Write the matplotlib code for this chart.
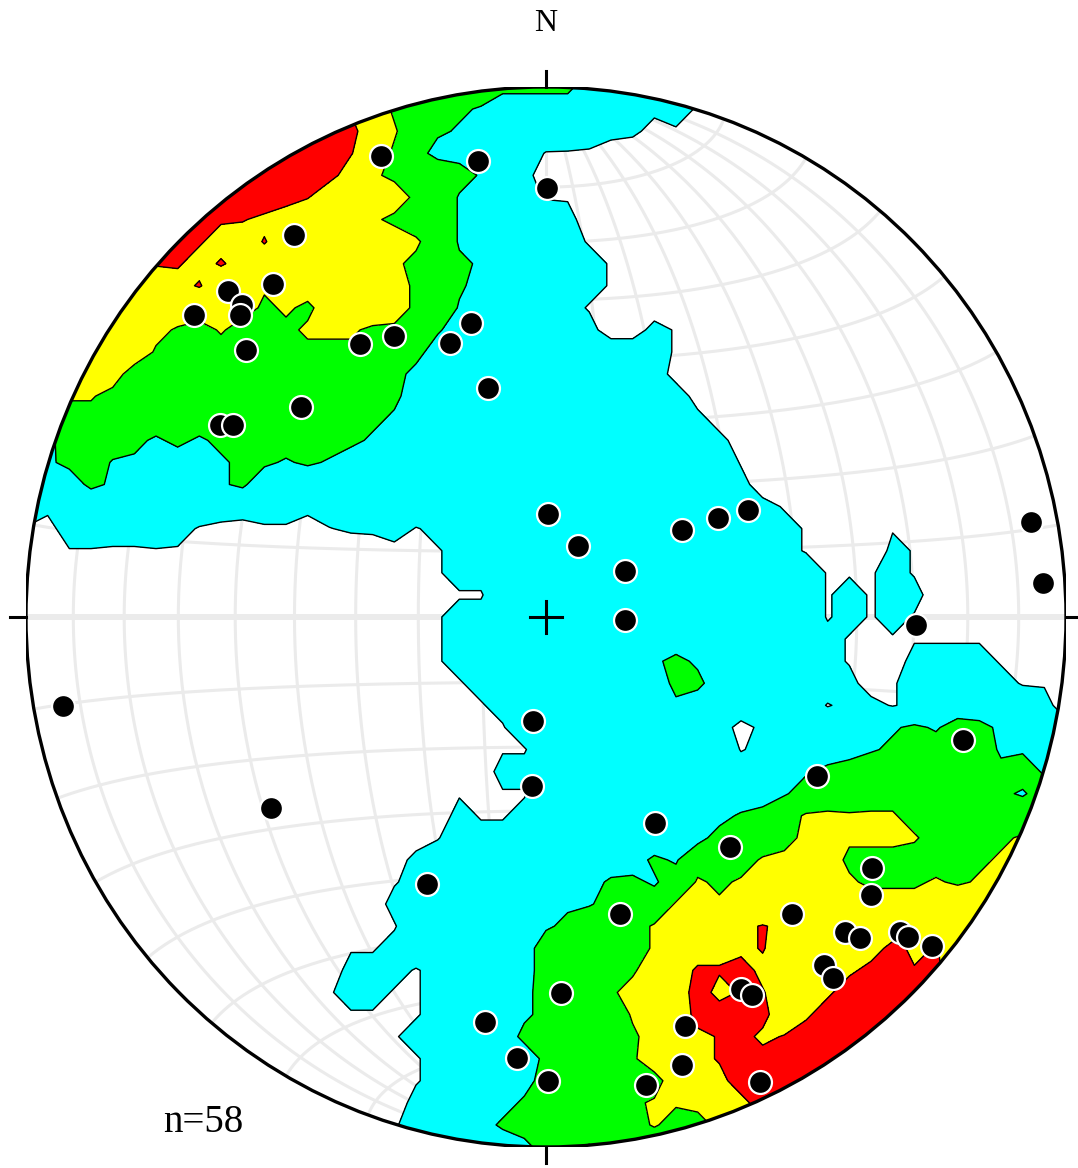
import numpy as np
import matplotlib.pyplot as plt
from matplotlib.patches import Circle

# poles to planes: trend / plunge in degrees (lower hemisphere)
trend = np.array([340.0, 351.4, 0.1, 326.1, 320.1, 315.2, 315.2, 314.1, 310.1, 311.1,
                  325.2, 331.1, 340.3, 345.4, 345.5, 310.1, 300.0, 301.0, 1.1, 24.7,
                  60.3, 92.1, 57.9, 60.5, 62.5, 79.1, 86.2, 91.2, 259.8, 235.7,
                  187.3, 184.8, 151.7, 119.9, 106.1, 140.8, 204.4, 127.1, 130.0, 139.8,
                  165.8, 136.0, 135.1, 131.1, 130.9, 129.9, 140.9, 141.0, 151.9, 151.0,
                  177.7, 188.7, 160.9, 183.8, 179.8, 167.7, 162.8, 154.9])
plunge = np.array([8.3, 14.0, 20.2, 14.2, 19.2, 14.3, 18.2, 19.2, 12.5, 24.4,
                   37.4, 39.3, 44.3, 42.2, 53.2, 38.4, 28.4, 30.4, 74.2, 78.0,
                   75.8, 77.7, 64.8, 58.8, 53.9, 5.6, 4.7, 29.6, 6.3, 36.2,
                   73.9, 63.8, 53.6, 39.7, 17.6, 43.4, 43.9, 22.5, 19.5, 27.5,
                   41.7, 18.4, 15.6, 10.6, 8.7, 3.6, 16.4, 13.4, 21.5, 19.5,
                   29.7, 23.7, 19.5, 17.7, 13.5, 10.6, 12.5, 3.5])

# Kamb contours at 2, 4, 6, 8 sigma
levels = [2, 4, 6, 8]
colors = ['#00ffff', '#00ff00', '#ffff00', '#ff0000']


def to_vec(tr, pl):
    t, p = np.radians(tr), np.radians(pl)
    return np.stack([np.cos(p) * np.sin(t), np.cos(p) * np.cos(t), np.sin(p)], axis=-1)


def project(e, n, d):
    # Schmidt (equal-area) projection, lower hemisphere
    s = 1.0 / np.sqrt(1.0 + d)
    return e * s, n * s


def unproject(x, y):
    # inverse of project(); outside the primitive this runs on into the
    # upper hemisphere, which the axial count treats as its antipode
    d = 1.0 - (x ** 2 + y ** 2)
    s = np.sqrt(np.clip(1.0 + d, 0, None))
    return np.stack([x * s, y * s, d], axis=-1)


def kamb(nodes, poles, sigma=3.0):
    n = len(poles)
    area = sigma ** 2 / (n + sigma ** 2)
    c = np.abs(nodes @ poles.T)
    count = (c >= 1.0 - area).sum(axis=-1)
    return count / np.sqrt(n * area * (1.0 - area))


poles = to_vec(trend, plunge)
px, py = project(*poles.T)

gx, gy = np.meshgrid(np.linspace(-1, 1, 49), np.linspace(-1, 1, 49))
dens = kamb(unproject(gx, gy), poles)

fig = plt.figure(figsize=(10.78, 11.68), dpi=100)
ax = fig.add_axes([26 / 1078, 21 / 1168, 1040 / 1078, 1060 / 1168])
ax.set_xlim(-1, 1)
ax.set_ylim(-1, 1)
ax.axis('off')

# net
grid_kw = dict(color='#ebebeb', lw=2.2, zorder=1, solid_capstyle='butt')
a = np.radians(np.linspace(-90, 90, 181))
for deg in range(-80, 90, 10):
    b = np.radians(deg)
    gx1, gy1 = project(np.cos(a) * np.sin(b), np.sin(a), np.cos(a) * np.cos(b))
    ax.plot(gx1, gy1, **grid_kw)
    gx2, gy2 = project(np.cos(b) * np.sin(a), np.sin(b) * np.ones_like(a), np.cos(b) * np.cos(a))
    ax.plot(gx2, gy2, **(dict(grid_kw, lw=4.3) if deg == 0 else grid_kw))

clip = Circle((0, 0), 1, transform=ax.transData, fc='none', ec='none')
ax.add_patch(clip)
cf = ax.contourf(gx, gy, dens, levels=levels + [dens.max() + 1], colors=colors, zorder=2)
cl = ax.contour(gx, gy, dens, levels=levels, colors='black', linewidths=1.0, zorder=3)
cf.set_clip_path(clip)
cl.set_clip_path(clip)

ax.add_patch(Circle((0, 0), 1, fc='none', ec='black', lw=2.4, zorder=5))
t = 0.03
for x0, y0, x1, y1 in [(0, 1, 0, 1 + t), (0, -1, 0, -1 - t), (-1, 0, -1 - t, 0), (1, 0, 1 + t, 0),
                       (-t, 0, t, 0), (0, -t, 0, t)]:
    ax.plot([x0, x1], [y0, y1], color='black', lw=2.2, zorder=5, clip_on=False)

ax.plot(px, py, 'o', ms=16.5, mfc='black', mec='white', mew=1.6, zorder=6)

ax.text(0, 1.106, 'N', ha='center', va='baseline', fontsize=23, family='Liberation Serif')
ax.text(-0.7365, -0.972, 'n=58', ha='left', va='baseline', fontsize=28, family='Liberation Serif')

fig.savefig('out.png', dpi=100)
